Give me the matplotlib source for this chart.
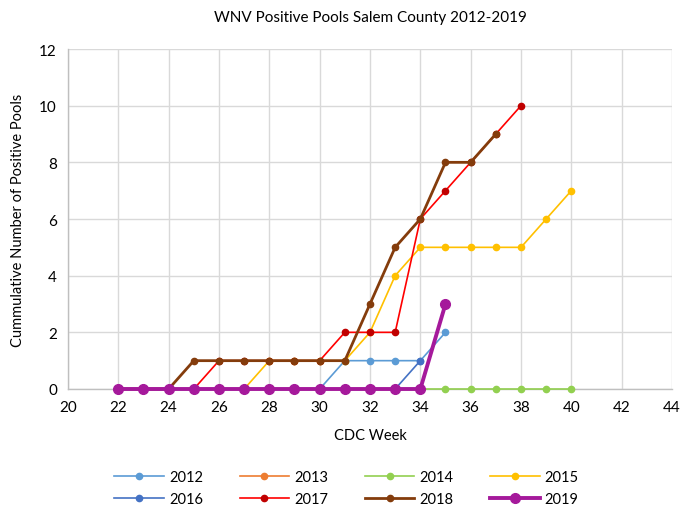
import matplotlib
matplotlib.use("Agg")
import matplotlib.pyplot as plt

plt.rcParams['font.family'] = ['Lato', 'DejaVu Sans']

years = ["2012", "2013", "2014", "2015", "2016", "2017", "2018", "2019"]

weeks_2012 = list(range(22, 36))
vals_2012 = [0, 0, 0, 0, 0, 0, 0, 0, 0, 1, 1, 1, 1, 2]
weeks_2013 = list(range(22, 35))
vals_2013 = [0] * 13
weeks_2014 = list(range(22, 41))
vals_2014 = [0] * 19
weeks_2015 = list(range(22, 41))
vals_2015 = [0, 0, 0, 0, 0, 0, 1, 1, 1, 1, 2, 4, 5, 5, 5, 5, 5, 6, 7]
weeks_2016 = list(range(22, 35))
vals_2016 = [0, 0, 0, 0, 0, 0, 0, 0, 0, 0, 0, 0, 1]
weeks_2017 = list(range(22, 39))
vals_2017 = [0, 0, 0, 0, 1, 1, 1, 1, 1, 2, 2, 2, 6, 7, 8, 9, 10]
weeks_2018 = list(range(22, 38))
vals_2018 = [0, 0, 0, 1, 1, 1, 1, 1, 1, 1, 3, 5, 6, 8, 8, 9]
weeks_2019 = list(range(22, 36))
vals_2019 = [0] * 13 + [3]

series = [
    (weeks_2012, vals_2012, "#5B9BD5", "#5B9BD5", 1.2, 4.5),
    (weeks_2013, vals_2013, "#ED7D31", "#ED7D31", 1.2, 4.5),
    (weeks_2014, vals_2014, "#92D050", "#92D050", 1.2, 4.5),
    (weeks_2015, vals_2015, "#FFC000", "#FFC000", 1.2, 4.5),
    (weeks_2016, vals_2016, "#4472C4", "#4472C4", 1.2, 4.5),
    (weeks_2017, vals_2017, "#FF0000", "#C00000", 1.2, 4.5),
    (weeks_2018, vals_2018, "#843C0C", "#843C0C", 2.0, 4.5),
    (weeks_2019, vals_2019, "#A5199B", "#A5199B", 2.8, 7.0),
]

fig = plt.figure(figsize=(6.85, 5.06), dpi=100)
ax = fig.add_axes([68/685, 1-390/506, (672-68)/685, (390-50)/506])

handles = []
for (w, v, lc, mc, lw, ms), name in zip(series, years):
    h, = ax.plot(w, v, color=lc, lw=lw, marker='o', ms=ms, mfc=mc, mec=mc,
                 label=name, zorder=3, clip_on=False)
    handles.append(h)

ax.set_xlim(20, 44)
ax.set_ylim(0, 12)
ax.set_xticks(range(20, 45, 2))
ax.set_yticks(range(0, 13, 2))
ax.grid(True, color="#D9D9D9", lw=1.0)
ax.set_axisbelow(True)
for s in ['top', 'right']:
    ax.spines[s].set_visible(False)
for s in ['left', 'bottom']:
    ax.spines[s].set_color("#BFBFBF")
    ax.spines[s].set_linewidth(1.0)
ax.tick_params(length=0, labelsize=11, colors="#000000", pad=8)

ax.set_title("WNV Positive Pools Salem County 2012-2019", fontsize=11, pad=20, color="#000000")
ax.set_xlabel("CDC Week", fontsize=10.5, labelpad=10)
ax.set_ylabel("Cummulative Number of Positive Pools", fontsize=10.5, labelpad=10)

# row-wise legend order for 4 columns x 2 rows
order = [0, 4, 1, 5, 2, 6, 3, 7]
fig.legend([handles[i] for i in order], [years[i] for i in order],
           loc='center', bbox_to_anchor=(0.506, 1-489/506), ncol=4, frameon=False,
           fontsize=10.5, handlelength=3.4, handletextpad=0.35, columnspacing=2.5,
           labelspacing=0.5)

fig.savefig("out.png", dpi=100)
